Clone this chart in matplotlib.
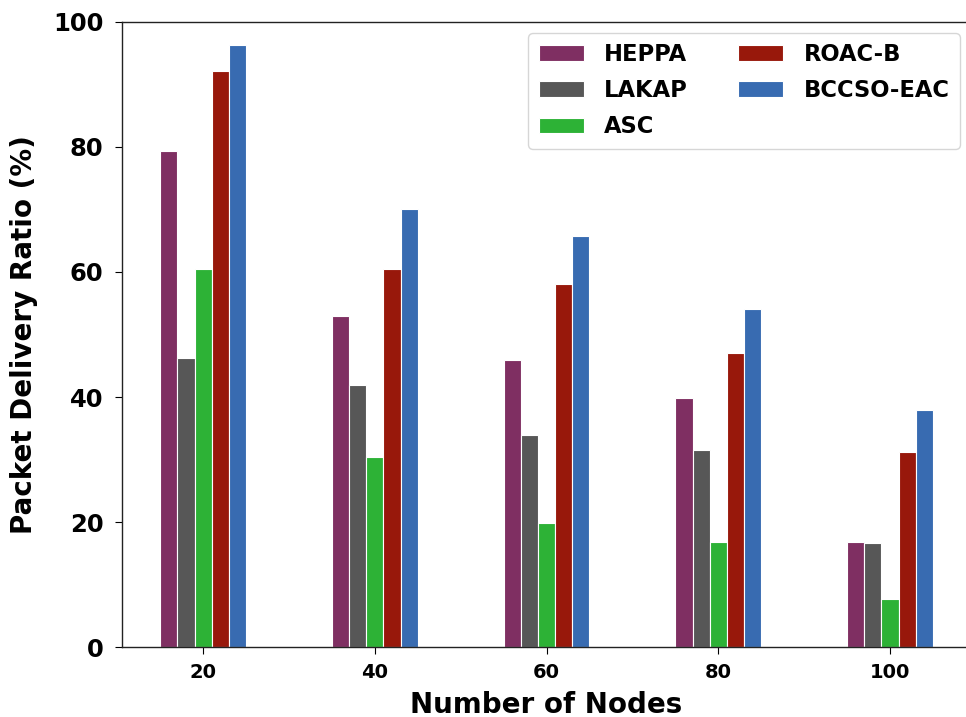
import numpy as np
import matplotlib
matplotlib.use("Agg")
import matplotlib.pyplot as plt

# number of nodes on the x axis
nodes = ["20", "40", "60", "80", "100"]

# packet delivery ratio (%)
heppa = [79.4, 53.0, 46.0, 39.9, 16.8]
lakap = [46.3, 42.0, 33.9, 31.6, 16.6]
asc = [60.4, 30.4, 19.8, 16.8, 7.7]
roac_b = [92.2, 60.4, 58.1, 47.1, 31.3]
bccso_eac = [96.3, 70.0, 65.7, 54.1, 38.0]

series = [heppa, lakap, asc, roac_b, bccso_eac]
labels = ["HEPPA", "LAKAP", "ASC", "ROAC-B", "BCCSO-EAC"]
colors = ["#7f2f62", "#575757", "#2db236", "#98180b", "#386bb1"]

fig = plt.figure(figsize=(9.66, 7.17), dpi=100)
# right spine falls just outside the picture, as in the cropped original
ax = fig.add_axes([0.1258, 0.0972, 0.88, 0.8725])

x = np.arange(len(nodes))
w = 0.1
for i, (vals, lab, col) in enumerate(zip(series, labels, colors)):
    ax.bar(x + (i - 2) * w, vals, w, label=lab, color=col,
           edgecolor="white", linewidth=0.8)

ax.set_ylim(0, 100)
ax.set_xticks(x)
ax.set_xticklabels(nodes)
ax.set_yticks(np.arange(0, 101, 20))
ax.tick_params(axis="x", labelsize=14, length=5, pad=6.5)
ax.tick_params(axis="y", labelsize=17.5, length=5, pad=8)
for t in ax.get_xticklabels() + ax.get_yticklabels():
    t.set_fontweight("bold")
for s in ax.spines.values():
    s.set_linewidth(1.0)
    s.set_color("#222222")

ax.set_xlabel("Number of Nodes", fontsize=20, fontweight="bold", labelpad=6)
ax.set_ylabel("Packet Delivery Ratio (%)", fontsize=20, fontweight="bold",
              labelpad=11)

ax.legend(ncol=2, prop={"weight": "bold", "size": 16.3}, loc="upper right",
          bbox_to_anchor=(0.986, 0.982), borderaxespad=0,
          columnspacing=2.2, handletextpad=0.9,
          labelspacing=0.58, borderpad=0.45)

fig.savefig("out.png", dpi=100)
